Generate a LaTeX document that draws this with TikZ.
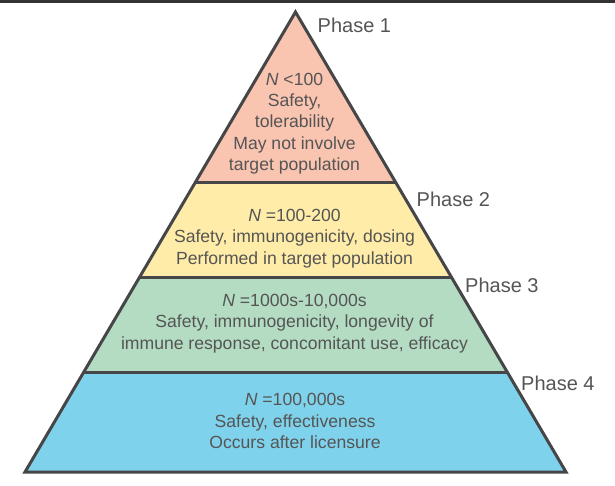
\documentclass[tikz,border=0pt]{standalone}
\usepackage{fontspec}
\setmainfont{Liberation Sans}
\usetikzlibrary{calc}
\definecolor{txt}{RGB}{85,85,85}
\definecolor{edge}{RGB}{70,70,72}
\definecolor{pone}{RGB}{249,196,176}
\definecolor{ptwo}{RGB}{254,236,168}
\definecolor{pthree}{RGB}{179,220,194}
\definecolor{pfour}{RGB}{127,210,235}
\tikzset{
  body/.style={text=txt, align=center, inner sep=0pt, font=\fontsize{17.6}{21.4}\selectfont},
  phase/.style={text=txt, anchor=west, inner sep=0pt, font=\fontsize{20}{24}\selectfont},
  outline/.style={draw=edge, line width=3pt},
}
\begin{document}
\begin{tikzpicture}[x=1pt, y=-1pt]
\useasboundingbox (0,0) rectangle (615,486);
% top rule
\draw[line width=3pt, draw=black!80] (0,1.5) -- (615,1.5);
% key points
\coordinate (apex) at (295.5,12);
\coordinate (l1) at (194.9,183); \coordinate (r1) at (396.1,183);
\coordinate (l2) at (139.7,277); \coordinate (r2) at (451.3,277);
\coordinate (l3) at (83.8,372);  \coordinate (r3) at (507.2,372);
\coordinate (l4) at (25,472);    \coordinate (r4) at (566,472);
% fills
\fill[pone] (apex) -- (r1) -- (l1) -- cycle;
\fill[ptwo] (l1) -- (r1) -- (r2) -- (l2) -- cycle;
\fill[pthree] (l2) -- (r2) -- (r3) -- (l3) -- cycle;
\fill[pfour] (l3) -- (r3) -- (r4) -- (l4) -- cycle;
% outline and dividers
\draw[outline] (apex) -- (r4) -- (l4) -- cycle;
\draw[outline] (l1) -- (r1);
\draw[outline] (l2) -- (r2);
\draw[outline] (l3) -- (r3);
% texts
\node[body] (t1) at (294.5,123.5) {\textit{N} <100\\Safety,\\tolerability\\May not involve\\target population};
\node[body] (t2) at (294.5,238.5) {\textit{N} =100-200\\Safety, immunogenicity, dosing\\Performed in target population};
\node[body] (t3) at (294.5,323.5) {\textit{N} =1000s-10,000s\\Safety, immunogenicity, longevity of\\immune response, concomitant use, efficacy};
\node[body] (t4) at (295,421) {\textit{N} =100,000s\\Safety, effectiveness\\Occurs after licensure};
% phase labels
\node[phase] (p1) at (317.5,25) {Phase 1};
\node[phase] (p2) at (416.5,199) {Phase 2};
\node[phase] (p3) at (465,285) {Phase 3};
\node[phase] (p4) at (521,383) {Phase 4};
\end{tikzpicture}
\end{document}
